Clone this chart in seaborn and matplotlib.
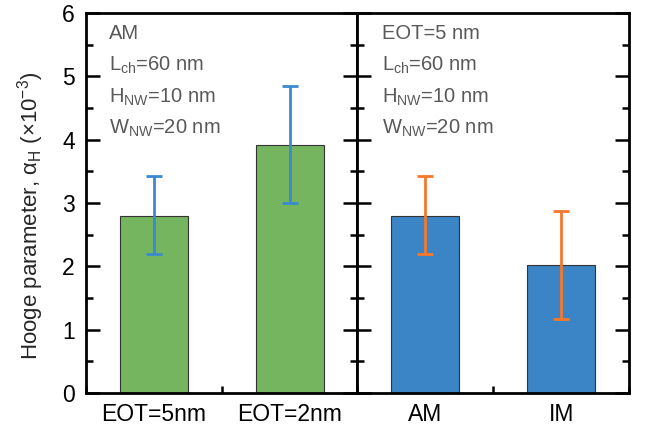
import matplotlib
matplotlib.use("Agg")
import matplotlib.pyplot as plt
import seaborn as sns
import numpy as np
from matplotlib.ticker import MultipleLocator

# Data
left_cats = ["EOT=5nm", "EOT=2nm"]
left_vals = [2.80, 3.92]
left_lo = [2.20, 3.00]
left_hi = [3.42, 4.84]

right_cats = ["AM", "IM"]
right_vals = [2.80, 2.02]
right_lo = [2.20, 1.17]
right_hi = [3.42, 2.87]

left_notes = ["AM", r"L$_{\mathregular{ch}}$=60 nm", r"H$_{\mathregular{NW}}$=10 nm", r"W$_{\mathregular{NW}}$=20 nm"]
right_notes = ["EOT=5 nm", r"L$_{\mathregular{ch}}$=60 nm", r"H$_{\mathregular{NW}}$=10 nm", r"W$_{\mathregular{NW}}$=20 nm"]

sns.set_style("ticks")
plt.rcParams["font.family"] = ["Liberation Sans", "DejaVu Sans"]
plt.rcParams["mathtext.fontset"] = "custom"
plt.rcParams["mathtext.rm"] = "Liberation Sans"
plt.rcParams["mathtext.it"] = "Liberation Sans:italic"

fig = plt.figure(figsize=(6.46, 4.26), dpi=100)
x0, x1, xm = 86 / 646, 629 / 646, 357.5 / 646
b, t = 1 - 393 / 426, 1 - 13 / 426
axL = fig.add_axes([x0, b, xm - x0, t - b])
axR = fig.add_axes([xm, b, x1 - xm, t - b], sharey=axL)

green = "#76b55f"
blue = "#3b84c5"
err_blue = "#3b8ad0"
err_orange = "#f5782a"

def draw(ax, cats, vals, lo, hi, color, ecol, notes, tx):
    sns.barplot(x=cats, y=vals, ax=ax, color=color, saturation=1, width=0.5,
                edgecolor="#333333", linewidth=0.8, errorbar=None)
    v = np.array(vals)
    yerr = [v - np.array(lo), np.array(hi) - v]
    ax.errorbar(np.arange(len(cats)), v, yerr=yerr, fmt="none", ecolor=ecol,
                elinewidth=2, capsize=6, capthick=2)
    ax.set_xlim(-0.5, 1.5)
    ax.set_ylim(0, 6)
    ax.yaxis.set_major_locator(MultipleLocator(1))
    ax.yaxis.set_minor_locator(MultipleLocator(0.5))
    ax.xaxis.set_minor_locator(MultipleLocator(1.0, offset=0.5))
    ax.tick_params(which="both", direction="in", top=False, left=True, right=True,
                   width=1.8, colors="black")
    ax.tick_params(which="major", length=10)
    ax.tick_params(which="minor", length=5)
    ax.tick_params(axis="x", labelsize=16.5, pad=7)
    ax.tick_params(axis="y", labelsize=16.5, pad=8)
    for s in ax.spines.values():
        s.set_visible(True)
        s.set_linewidth(2)
        s.set_color("black")
    ax.set_xlabel("")
    for i, n in enumerate(notes):
        ax.text(tx, 0.945 - i * 0.083, n, transform=ax.transAxes, ha="left", va="center",
                fontsize=14.5, color="#595959")

draw(axL, left_cats, left_vals, left_lo, left_hi, green, err_blue, left_notes, 0.085)
draw(axR, right_cats, right_vals, right_lo, right_hi, blue, err_orange, right_notes, 0.09)
axR.tick_params(axis="y", labelleft=False)
axL.set_ylabel(r"Hooge parameter, α$_{\mathregular{H}}$ (×10$^{\mathregular{-3}}$)", fontsize=16)
axL.yaxis.set_label_coords(-0.148, 0.465)

fig.savefig("out.png", dpi=100)
